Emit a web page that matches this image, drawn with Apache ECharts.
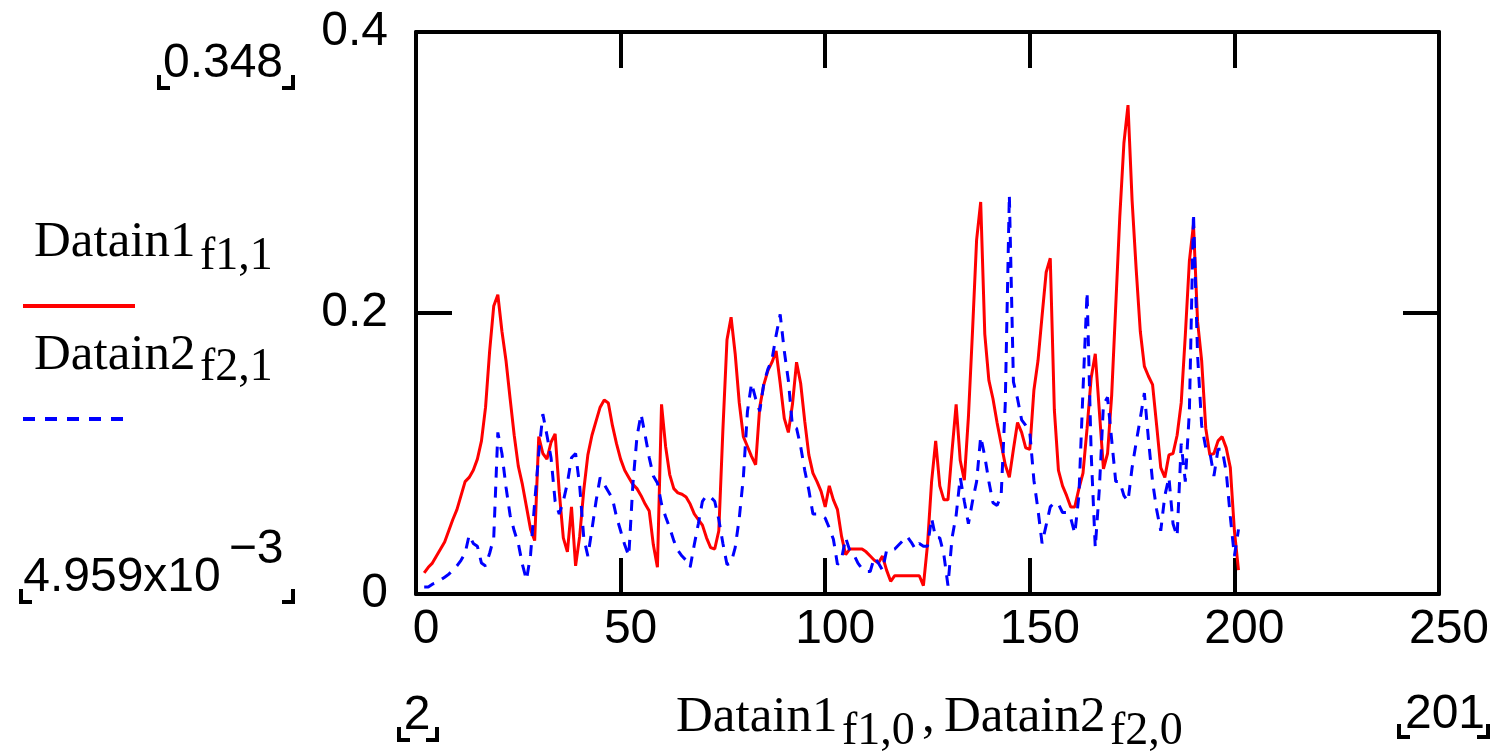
<!DOCTYPE html>
<html>
<head>
<meta charset="utf-8">
<title>Datain1 / Datain2</title>
<script src="https://cdn.jsdelivr.net/npm/echarts@6.0.0/dist/echarts.min.js"></script>
<style>
    html, body { margin: 0; padding: 0; background: #ffffff; }
    #main { width: 1499px; height: 753px; }
</style>
</head>
<body>
<div id="main"></div>
<script>
    // sample index of the first value (x runs 2 .. 201)
    var xFirst = 2;

    // Datain1 f1,1  (red, solid)
    var datain1 = [
        0.015, 0.019, 0.022, 0.027, 0.032, 0.037, 0.045, 0.053, 0.060, 0.070,
        0.080, 0.083, 0.088, 0.096, 0.109, 0.133, 0.173, 0.205, 0.213, 0.187,
        0.166, 0.139, 0.113, 0.091, 0.078, 0.062, 0.046, 0.038, 0.112, 0.100,
        0.096, 0.108, 0.114, 0.073, 0.040, 0.030, 0.062, 0.020, 0.041, 0.074,
        0.099, 0.113, 0.123, 0.133, 0.138, 0.136, 0.120, 0.107, 0.096, 0.088,
        0.083, 0.078, 0.075, 0.070, 0.064, 0.059, 0.035, 0.019, 0.135, 0.105,
        0.085, 0.075, 0.072, 0.071, 0.069, 0.064, 0.057, 0.053, 0.049, 0.040,
        0.033, 0.032, 0.045, 0.117, 0.181, 0.197, 0.171, 0.136, 0.112, 0.105,
        0.098, 0.092, 0.133, 0.149, 0.159, 0.165, 0.173, 0.150, 0.125, 0.115,
        0.135, 0.165, 0.150, 0.123, 0.099, 0.086, 0.080, 0.073, 0.062, 0.077,
        0.067, 0.060, 0.041, 0.028, 0.032, 0.032, 0.032, 0.032, 0.030, 0.027,
        0.024, 0.022, 0.027, 0.017, 0.009, 0.013, 0.013, 0.013, 0.013, 0.013,
        0.013, 0.013, 0.006, 0.035, 0.080, 0.109, 0.077, 0.067, 0.067, 0.102,
        0.135, 0.095, 0.081, 0.126, 0.187, 0.252, 0.279, 0.185, 0.152, 0.139,
        0.122, 0.107, 0.092, 0.083, 0.103, 0.122, 0.115, 0.104, 0.103, 0.145,
        0.166, 0.198, 0.229, 0.239, 0.131, 0.088, 0.077, 0.070, 0.062, 0.062,
        0.075, 0.086, 0.118, 0.154, 0.171, 0.130, 0.089, 0.100, 0.141, 0.205,
        0.269, 0.321, 0.348, 0.280, 0.231, 0.187, 0.162, 0.155, 0.149, 0.120,
        0.090, 0.083, 0.099, 0.100, 0.113, 0.136, 0.184, 0.237, 0.263, 0.194,
        0.166, 0.118, 0.099, 0.100, 0.109, 0.112, 0.104, 0.090, 0.045, 0.017
    ];

    // Datain2 f2,1  (blue, dashed)
    var datain2 = [
        0.005, 0.005, 0.007, 0.008, 0.010, 0.012, 0.014, 0.017, 0.020, 0.024,
        0.029, 0.042, 0.036, 0.034, 0.022, 0.020, 0.029, 0.040, 0.115, 0.100,
        0.076, 0.056, 0.045, 0.036, 0.021, 0.010, 0.028, 0.065, 0.100, 0.128,
        0.113, 0.097, 0.066, 0.057, 0.066, 0.079, 0.097, 0.100, 0.077, 0.040,
        0.027, 0.046, 0.066, 0.083, 0.078, 0.073, 0.068, 0.055, 0.045, 0.035,
        0.027, 0.078, 0.112, 0.128, 0.113, 0.097, 0.084, 0.079, 0.064, 0.055,
        0.047, 0.038, 0.031, 0.027, 0.024, 0.019, 0.035, 0.050, 0.066, 0.070,
        0.069, 0.066, 0.053, 0.036, 0.021, 0.022, 0.033, 0.054, 0.083, 0.130,
        0.150, 0.139, 0.130, 0.150, 0.160, 0.167, 0.184, 0.199, 0.173, 0.152,
        0.119, 0.118, 0.105, 0.088, 0.074, 0.057, 0.057, 0.056, 0.054, 0.047,
        0.039, 0.021, 0.025, 0.040, 0.031, 0.028, 0.022, 0.018, 0.016, 0.016,
        0.026, 0.022, 0.017, 0.031, 0.031, 0.032, 0.035, 0.038, 0.041, 0.037,
        0.032, 0.036, 0.034, 0.034, 0.054, 0.040, 0.040, 0.028, 0.006, 0.040,
        0.056, 0.083, 0.066, 0.050, 0.066, 0.080, 0.112, 0.098, 0.080, 0.065,
        0.063, 0.070, 0.135, 0.284, 0.151, 0.139, 0.124, 0.120, 0.115, 0.081,
        0.060, 0.036, 0.049, 0.062, 0.065, 0.064, 0.058, 0.058, 0.054, 0.043,
        0.070, 0.145, 0.215, 0.100, 0.033, 0.075, 0.135, 0.140, 0.110, 0.080,
        0.080, 0.070, 0.066, 0.090, 0.108, 0.125, 0.143, 0.110, 0.080, 0.060,
        0.045, 0.070, 0.083, 0.050, 0.041, 0.107, 0.080, 0.130, 0.271, 0.170,
        0.120, 0.104, 0.101, 0.084, 0.103, 0.103, 0.087, 0.055, 0.027, 0.046
    ];

    // axis ranges / ticks
    var xMin = 0, xMax = 250, xStep = 50;
    var yMin = 0, yMax = 0.4, yStep = 0.2;

    // range markers printed round the plot
    var yHigh = '0.348';
    var yLow = '4.959x10';
    var yLowExp = '\u22123';
    var xLow = '2';
    var xHigh = '201';

    function pairs(values) {
        return values.map(function (v, i) { return [xFirst + i, v]; });
    }

    var numFont = "'Liberation Sans', Arial, sans-serif";
    var serifFont = "'Liberation Serif', 'Times New Roman', serif";

    function txt(x, y, s, size, family, align) {
        return {
            type: 'text', x: x, y: y, silent: true,
            style: {
                text: s, font: size + 'px ' + family, fill: '#000',
                align: align || 'left', textAlign: align || 'left',
                verticalAlign: 'middle', textVerticalAlign: 'middle'
            }
        };
    }
    // little Mathcad corner marks under the range numbers
    function corner(x, y, dir) {
        return {
            type: 'polyline', silent: true,
            shape: { points: [[x, y - 13], [x, y], [x + dir * 11, y]] },
            style: { stroke: '#000', lineWidth: 4, fill: null }
        };
    }

    var myChart = echarts.init(document.getElementById('main'));
    var axisLineStyle = { show: true, onZero: false, lineStyle: { color: '#000', width: 4 } };
    var tickStyle = { show: true, inside: true, length: 36, lineStyle: { color: '#000', width: 4 } };

    var option = {
        animation: false,
        grid: { left: 416, right: 60, top: 32, bottom: 159, containLabel: false },
        xAxis: [
            {
                type: 'value', position: 'bottom', min: xMin, max: xMax, interval: xStep,
                axisLine: axisLineStyle, axisTick: tickStyle, splitLine: { show: false },
                axisLabel: {
                    color: '#000', fontSize: 48, fontFamily: numFont,
                    margin: 12, padding: [0, 0, 0, 20]
                }
            },
            {
                type: 'value', position: 'top', min: xMin, max: xMax, interval: xStep,
                axisLine: axisLineStyle, axisTick: tickStyle, splitLine: { show: false },
                axisLabel: { show: false }
            }
        ],
        yAxis: [
            {
                type: 'value', position: 'left', min: yMin, max: yMax, interval: yStep,
                axisLine: axisLineStyle, axisTick: tickStyle, splitLine: { show: false },
                axisLabel: { color: '#000', fontSize: 48, fontFamily: numFont, margin: 28 }
            },
            {
                type: 'value', position: 'right', min: yMin, max: yMax, interval: yStep,
                axisLine: axisLineStyle, axisTick: tickStyle, splitLine: { show: false },
                axisLabel: { show: false }
            }
        ],
        series: [
            {
                name: 'Datain1', type: 'line', xAxisIndex: 0, yAxisIndex: 0,
                data: pairs(datain1), showSymbol: false, symbol: 'none',
                lineStyle: { color: '#ff0000', width: 3 }
            },
            {
                name: 'Datain2', type: 'line', xAxisIndex: 0, yAxisIndex: 0,
                data: pairs(datain2), showSymbol: false, symbol: 'none',
                lineStyle: { color: '#0000ff', width: 3, type: [11, 9] }
            }
        ],
        graphic: [
            // y label (legend-like, left side)
            txt(34, 243, 'Datain1', 51, serifFont),
            txt(200, 257, 'f1,1', 46, serifFont),
            { type: 'line', silent: true, shape: { x1: 23, y1: 306, x2: 135, y2: 306 },
              style: { stroke: '#ff0000', lineWidth: 4 } },
            txt(34, 356, 'Datain2', 51, serifFont),
            txt(200, 368, 'f2,1', 46, serifFont),
            { type: 'line', silent: true, shape: { x1: 23, y1: 419, x2: 125, y2: 419 },
              style: { stroke: '#0000ff', lineWidth: 4, lineDash: [12, 10] } },

            // x label
            txt(676, 718, 'Datain1', 51, serifFont),
            txt(842, 732, 'f1,0', 46, serifFont),
            txt(922, 718, ',', 51, serifFont),
            txt(944, 718, 'Datain2', 51, serifFont),
            txt(1110, 732, 'f2,0', 46, serifFont),

            // y range markers
            txt(223, 64, yHigh, 48, numFont, 'center'),
            corner(159, 88, 1), corner(293, 88, -1),
            txt(122, 578, yLow, 48, numFont, 'center'),
            txt(256, 550, yLowExp, 48, numFont, 'center'),
            corner(21, 602, 1), corner(293, 602, -1),

            // x range markers
            txt(417, 716, xLow, 48, numFont, 'center'),
            corner(399, 740, 1), corner(437, 740, -1),
            txt(1445, 715, xHigh, 48, numFont, 'center'),
            corner(1399, 737, 1), corner(1488, 737, -1)
        ]
    };
    myChart.setOption(option);
</script>
</body>
</html>
